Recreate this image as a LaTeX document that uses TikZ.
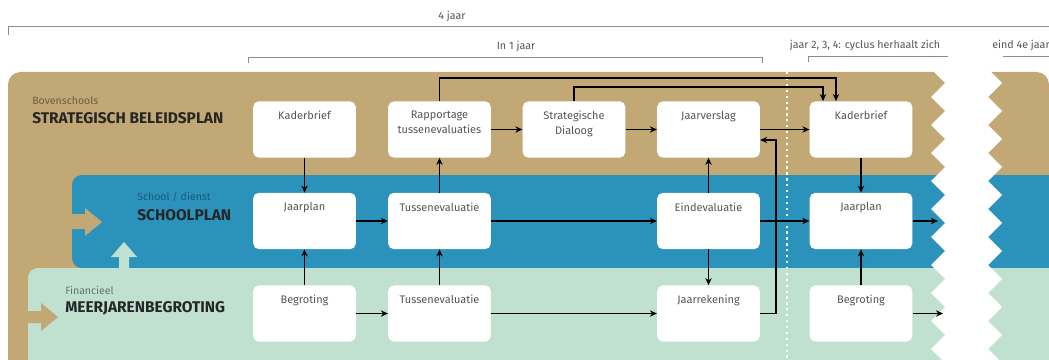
\documentclass[tikz,border=0pt]{standalone}
\usepackage{fontspec}
\setmainfont{Fira Sans}
\usetikzlibrary{arrows.meta}
\usetikzlibrary{positioning}

\definecolor{beleid}{HTML}{C1A875}
\definecolor{school}{HTML}{2B92BC}
\definecolor{financ}{HTML}{C0E0D0}
\definecolor{tekst}{HTML}{555555}
\definecolor{lijn}{HTML}{8C8C8C}
\definecolor{subbeleid}{HTML}{6B5E45}
\definecolor{subschool}{HTML}{1D5A7A}
\definecolor{subfinanc}{HTML}{66776F}

\begin{document}
\begin{tikzpicture}[x=0.025cm, y=-0.025cm, >={Stealth[length=5pt,width=4.5pt]},
    box/.style={fill=white, rounded corners=4pt, minimum width=73pt, minimum height=40pt, inner sep=0pt,
      label={[anchor=north, yshift=-7pt, inner sep=0pt, align=center, text=tekst, font=\fontsize{7.8}{10.5}\selectfont]north:#1}},
    kop/.style={anchor=west, inner sep=0pt, font=\fontsize{11}{13}\selectfont\bfseries, text=black!85},
    sub/.style={anchor=west, inner sep=0pt, font=\fontsize{7.5}{9}\selectfont},
    periode/.style={inner sep=0pt, text=tekst, font=\fontsize{7.6}{9}\selectfont},
    haak/.style={draw=lijn, line width=0.7pt},
    pijl/.style={->, line width=0.9pt}]

      \clip (0,0) rectangle (1049,360);

      \fill[beleid, rounded corners=9pt] (8,72) rectangle (1049,400);
      \fill[school, rounded corners=7pt] (72,175) rectangle (1080,268);
      \fill[financ, rounded corners=7pt] (28,268) rectangle (1080,400);

      \fill[white] (931,69) foreach \k in {0,...,10} { -- (945,83+28*\k) -- (931,97+28*\k)}
        -- (988,377) foreach \k in {10,9,...,0} { -- (1002,83+28*\k) -- (988,69+28*\k)} -- cycle;

      \draw[white, line width=1.6pt, dash pattern=on 1.6pt off 2.6pt] (787,72) -- (787,360);

      \fill[beleid] (72,214) -- (85,214) -- (85,208) -- (102,222) -- (85,236) -- (85,229) -- (72,229) -- cycle;
      \fill[beleid] (28,311) -- (41,311) -- (41,303) -- (58,317) -- (41,331) -- (41,323) -- (28,323) -- cycle;
      \fill[financ] (119,268) -- (119,257) -- (111,257) -- (124,242) -- (137,257) -- (129,257) -- (129,268) -- cycle;

      \draw[haak] (8,35) |- (1049,26);
      \draw[haak] (248,63) |- (762,57) -- (762,63);
      \draw[haak] (808,62) |- (948,56);
      \draw[haak] (1003,56) -- (1049,56);
      \node[periode] (vierjaar) at (452,16) {4 jaar};
      \node[periode] (eenjaar) at (516,46) {In 1 jaar};
      \node[periode] (cyclus) at (865,45) {jaar 2, 3, 4: cyclus herhaalt zich};
      \node[periode, anchor=west] (eindjaar) at (992,45) {eind 4e jaar};

      \node[sub, text=subbeleid] (bovsch) at (32,101) {Bovenschools};
      \node[kop] (sbp) at (32,118) {STRATEGISCH BELEIDSPLAN};
      \node[sub, text=subschool] (dienst) at (137,197) {School / dienst};
      \node[kop] (sp) at (137,215) {SCHOOLPLAN};
      \node[sub, text=subfinanc] (fin) at (65,290) {Financieel};
      \node[kop] (mjb) at (65,308) {MEERJARENBEGROTING};

      \node[box=Kaderbrief] (kader1) at (304.5,129.5) {};
      \node[box={Rapportage\\tussenevaluaties}] (rapport) at (439.5,129.5) {};
      \node[box={Strategische\\Dialoog}] (dialoog) at (574,129.5) {};
      \node[box=Jaarverslag] (verslag) at (708.5,129.5) {};
      \node[box=Kaderbrief] (kader2) at (861,129.5) {};

      \node[box=Jaarplan] (jaarplan1) at (304.5,221) {};
      \node[box=Tussenevaluatie] (tussen1) at (439.5,221) {};
      \node[box=Eindevaluatie] (eind) at (708.5,221) {};
      \node[box=Jaarplan] (jaarplan2) at (861,221) {};

      \node[box=Begroting] (begroting1) at (304.5,313.5) {};
      \node[box=Tussenevaluatie] (tussen2) at (439.5,313.5) {};
      \node[box=Jaarrekening] (rekening) at (708.5,313.5) {};
      \node[box=Begroting] (begroting2) at (861,313.5) {};

      \coordinate (boven1) at (836,78);
      \coordinate (boven2) at (823,87);
      \coordinate (terug) at (776,140);
      \coordinate (uit1) at (938,221);
      \coordinate (uit2) at (943,313.5);

      \draw[pijl] (kader1) -- (jaarplan1);
      \draw[pijl] (begroting1) -- (jaarplan1);
      \draw[pijl] (jaarplan1) -- (tussen1);
      \draw[pijl] (begroting1) -- (tussen2);
      \draw[pijl] (tussen2) -- (tussen1);
      \draw[pijl] (tussen1) -- (rapport);
      \draw[pijl] (rapport) -- (dialoog);
      \draw[pijl] (dialoog) -- (verslag);
      \draw[pijl] (tussen1) -- (eind);
      \draw[pijl] (tussen2) -- (rekening);
      \draw[pijl] (eind) -- (verslag);
      \draw[pijl] (eind) -- (rekening);
      \draw[pijl] (verslag) -- (kader2);
      \draw[pijl] (eind) -- (jaarplan2);
      \draw[pijl] (kader2) -- (jaarplan2);
      \draw[pijl] (begroting2) -- (jaarplan2);
      \draw[pijl] (rapport.north) |- (boven1) -- (boven1 |- kader2.north);
      \draw[pijl] (dialoog.north) |- (boven2) -- (boven2 |- kader2.north);
      \draw[pijl] (rekening.east) -| (terug) -- (terug -| verslag.east);
      \draw[pijl] (jaarplan2) -- (uit1);
      \draw[pijl] (begroting2) -- (uit2);
    \end{tikzpicture}
\end{document}
